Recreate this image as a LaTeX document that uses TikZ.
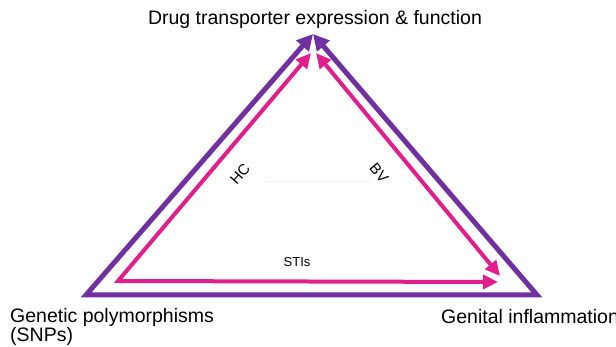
\documentclass[tikz,border=0pt]{standalone}
\usepackage{fontspec}
\setmainfont{Liberation Sans}
\usetikzlibrary{arrows.meta}
\definecolor{purp}{RGB}{112,48,160}
\definecolor{pnk}{RGB}{226,30,140}
\tikzset{
  purpline/.style={draw=purp,line width=5pt,line join=miter},
  pnkline/.style={draw=pnk,line width=4pt,line join=miter},
  ptip/.tip={Triangle[length=16pt,width=16pt]},
  ktip/.tip={Triangle[length=15pt,width=14pt]},
  big/.style={font=\fontsize{19.5}{20}\selectfont,inner sep=0pt},
  lbl/.style={font=\fontsize{13}{14}\selectfont,inner sep=0pt},
  dlbl/.style={font=\fontsize{15}{16}\selectfont,inner sep=0pt}
}
\begin{document}
\begin{tikzpicture}[x=1pt,y=-1pt]
\useasboundingbox (0,0) rectangle (616,347);
% purple triangle
\coordinate (PT) at (313,34);
\coordinate (PL) at (86,295);
\coordinate (PR) at (537,295);
\draw[purpline,{ptip}-{ptip}] (PT) -- (PL) -- (PR) -- (PT);
% pink
\coordinate (KT1) at (311,53);
\coordinate (KT2) at (316,53);
\coordinate (KL) at (118,281);
\coordinate (KR) at (498,282);
\coordinate (KR2) at (500,276);
\draw[pnkline,{ktip}-{ktip}] (KT1) -- (KL) -- (KR);
\draw[pnkline,{ktip}-{ktip}] (KT2) -- (KR2);
% faint line
\draw[black!6,line width=0.6pt] (266,181) -- (370,181);
% labels
\node[dlbl,rotate=49] (hc) at (240,174) {HC};
\node[dlbl,rotate=-50] (bv) at (379,173) {BV};
\node[lbl,anchor=base] (sti) at (297,267) {STIs};
\node[big,anchor=base] (top) at (315,25) {Drug transporter expression \& function};
\node[big,anchor=base west,align=left] (snp) at (10,342) {Genetic polymorphisms\\(SNPs)};
\node[big,anchor=base west] (gi) at (441,324) {Genital inflammation};
\end{tikzpicture}
\end{document}
